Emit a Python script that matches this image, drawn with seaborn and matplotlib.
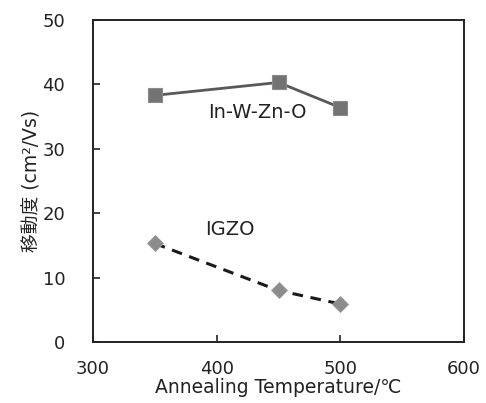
import pandas as pd
import numpy as np
import matplotlib
matplotlib.use("Agg")
import matplotlib.pyplot as plt
import seaborn as sns

# values
temps = [350, 450, 500]
iwzo_mobility = [38.3, 40.3, 36.4]
igzo_mobility = [15.3, 8.0, 5.9]
x_ticks = [300, 400, 500, 600]
y_ticks = [0, 10, 20, 30, 40, 50]

iwzo = pd.DataFrame({"temp": temps, "mobility": iwzo_mobility})
igzo = pd.DataFrame({"temp": temps, "mobility": igzo_mobility})

sns.set_style("ticks")
plt.rcParams['font.family'] = ['DejaVu Sans', 'Noto Sans CJK JP']

fig = plt.figure(figsize=(4.86, 4.03), dpi=100)
ax = fig.add_axes([93 / 486, 1 - 342 / 403, (464 - 93) / 486, (342 - 20) / 403])

sns.lineplot(data=iwzo, x="temp", y="mobility", ax=ax, color="#595959", linewidth=2,
             marker="s", markersize=10, markerfacecolor="#737373",
             markeredgecolor="#8a8a8a", markeredgewidth=0.8)
sns.lineplot(data=igzo, x="temp", y="mobility", ax=ax, color="#1a1a1a", linewidth=2.2,
             linestyle=(0, (3.5, 2.5)), marker="D", markersize=8.5,
             markerfacecolor="#8c8c8c", markeredgecolor="#9a9a9a", markeredgewidth=0.6)

ax.text(433, 35.6, "In-W-Zn-O", ha="center", va="center", fontsize=14, color="#222222")
ax.text(411, 17.4, "IGZO", ha="center", va="center", fontsize=14, color="#222222")

ax.set_xlim(300, 600)
ax.set_ylim(0, 50)
ax.set_xticks(x_ticks)
ax.set_yticks(y_ticks)
ax.tick_params(direction="in", length=5, width=1.2, labelsize=13, colors="#222222")
ax.tick_params(axis="y", pad=20)
ax.tick_params(axis="x", pad=13)
ax.tick_params(top=False, right=False)
for s in ax.spines.values():
    s.set_linewidth(1.4)
    s.set_color("#222222")

ax.set_xlabel("Annealing Temperature/℃", fontsize=13.5, labelpad=0, color="#222222")
ax.set_ylabel("移動度 (cm²/Vs)", fontsize=13.5, labelpad=1, color="#222222")

fig.savefig("out.png", dpi=100)
